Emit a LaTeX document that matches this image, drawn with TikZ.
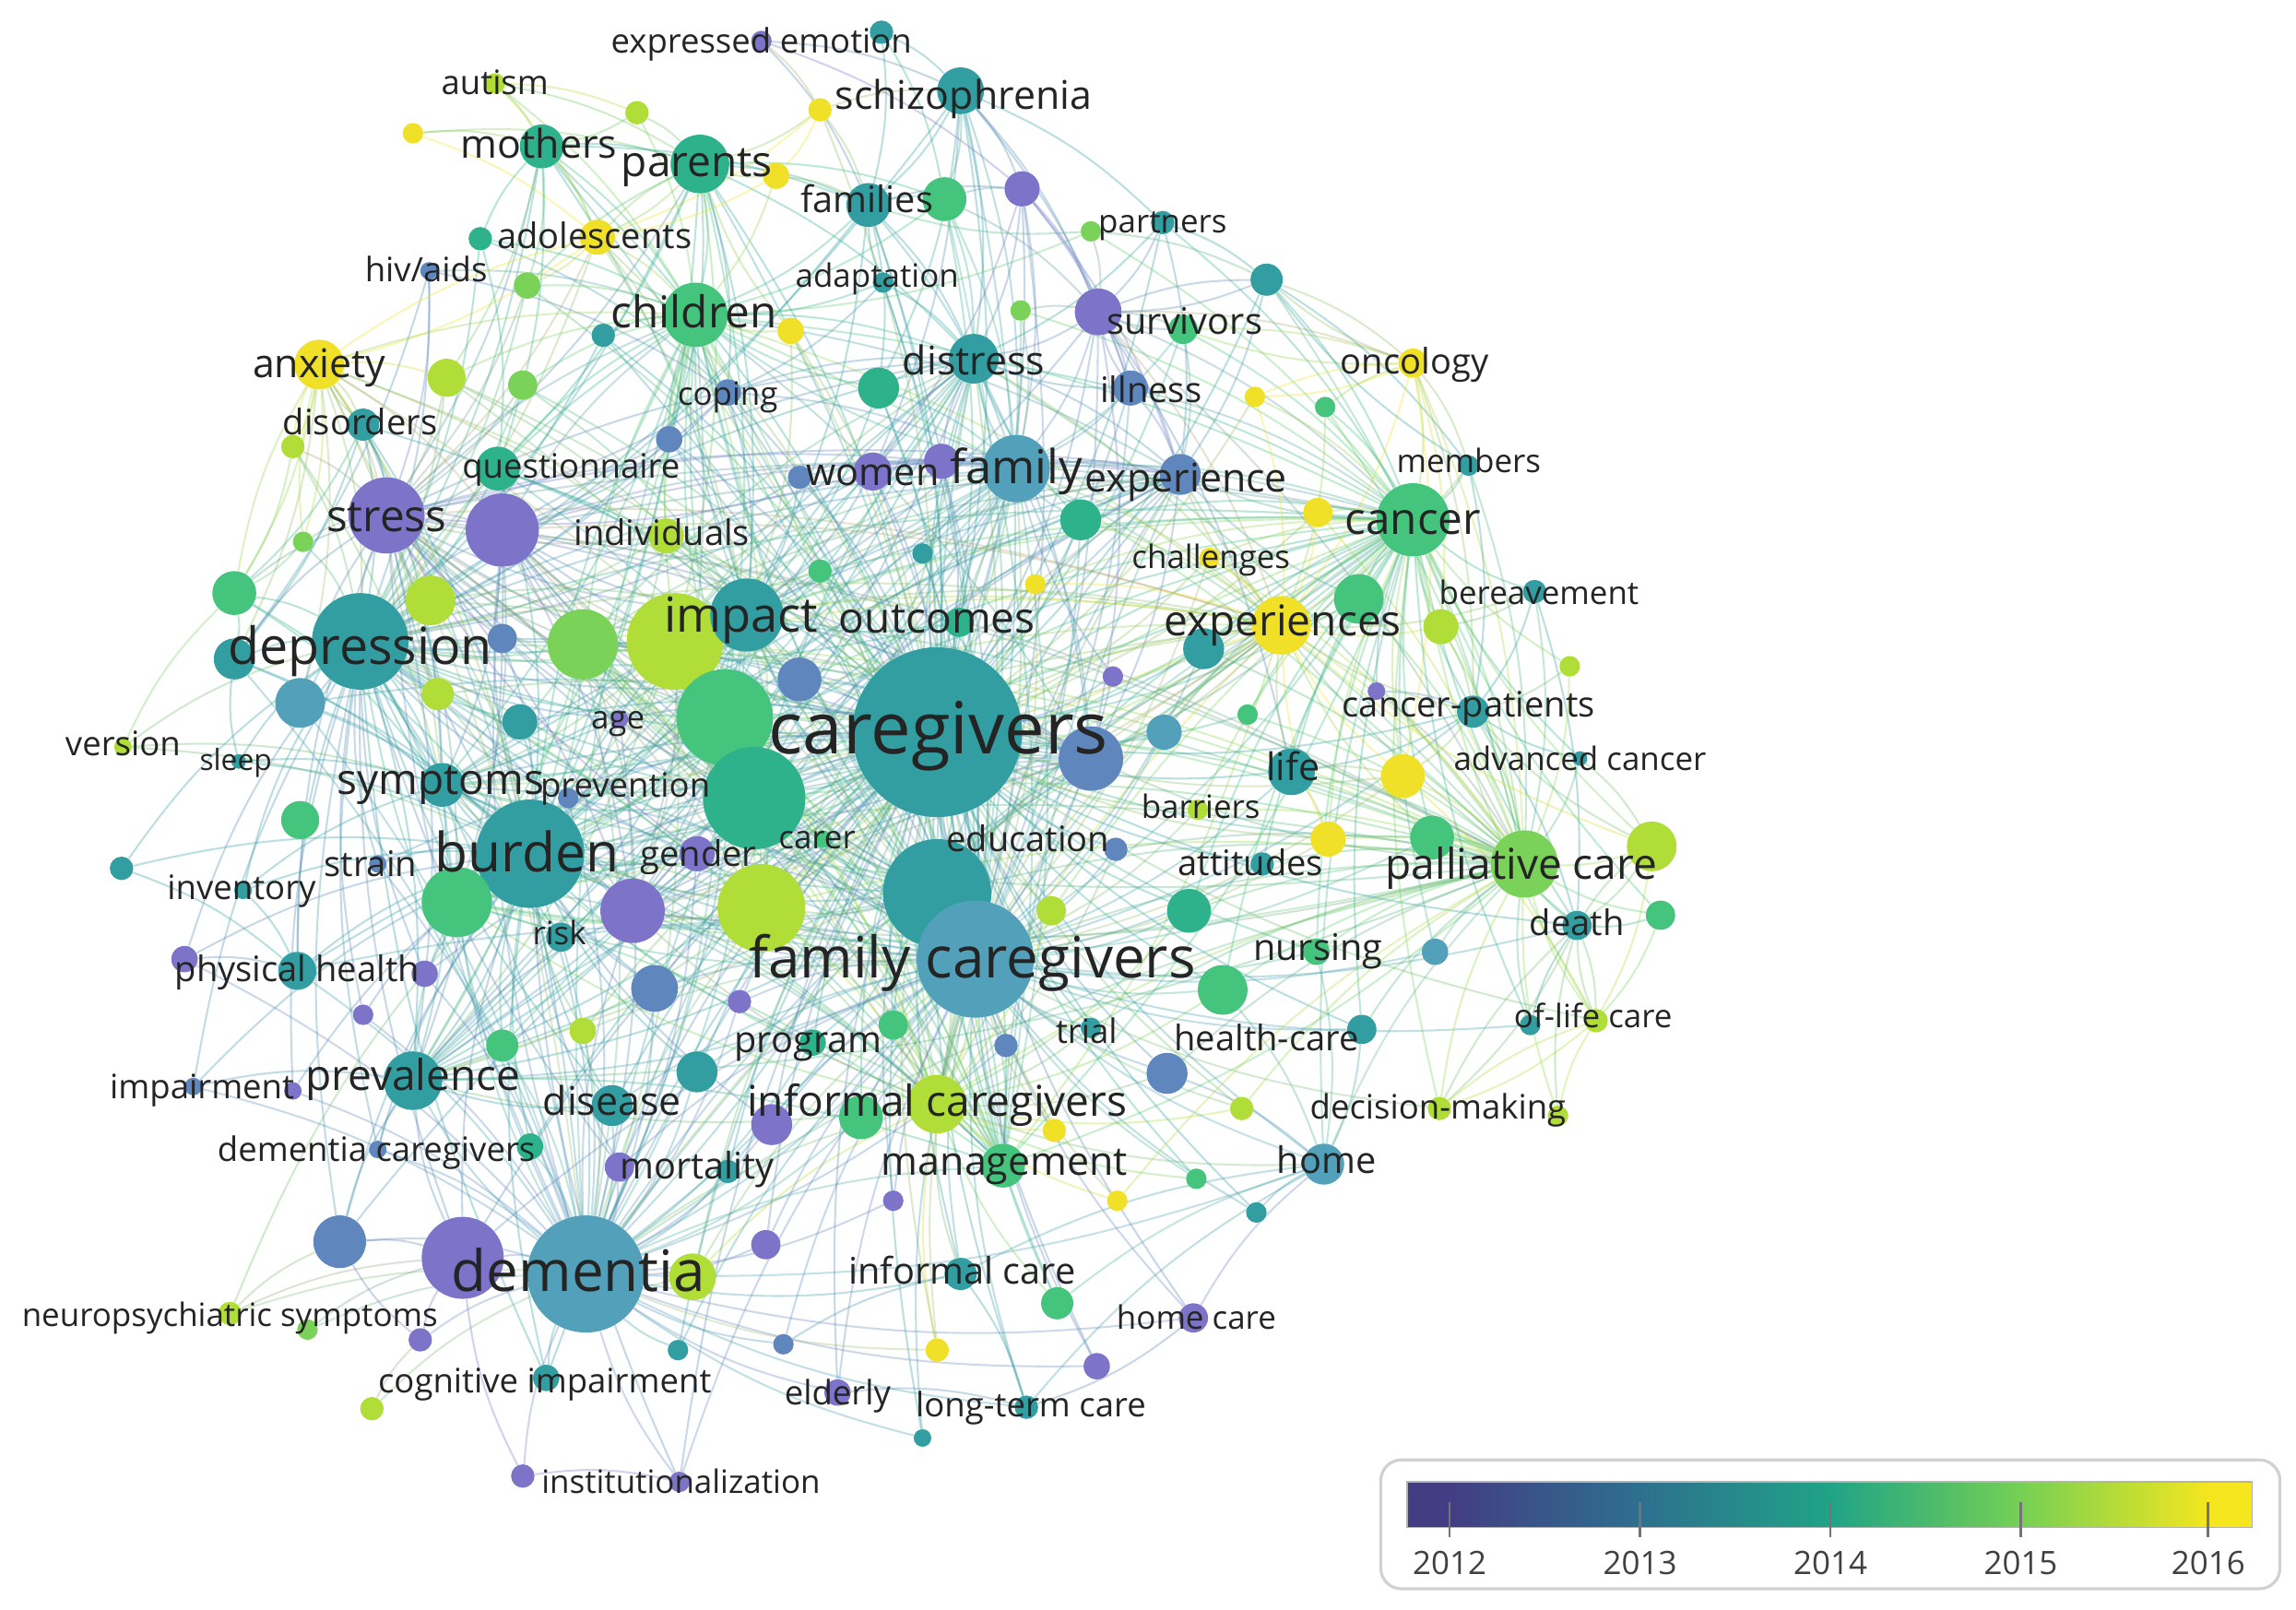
\documentclass[tikz,border=0pt]{standalone}
\usepackage{fontspec}
\setmainfont{Open Sans}
\pgfdeclarelayer{edgelayer}
\pgfdeclarelayer{labellayer}
\pgfsetlayers{edgelayer,main,labellayer}
\definecolor{cP}{RGB}{125,115,200}
\definecolor{cB}{RGB}{95,135,190}
\definecolor{cL}{RGB}{82,160,186}
\definecolor{cT}{RGB}{50,158,162}
\definecolor{cG1}{RGB}{45,178,140}
\definecolor{cG}{RGB}{68,196,125}
\definecolor{cGY}{RGB}{122,210,88}
\definecolor{cYG}{RGB}{176,221,55}
\definecolor{cY}{RGB}{240,225,40}
\definecolor{v12}{RGB}{67,61,132}
\definecolor{v13}{RGB}{45,112,142}
\definecolor{v14}{RGB}{32,163,134}
\definecolor{v15}{RGB}{117,208,84}
\definecolor{v16}{RGB}{245,230,30}
\tikzset{
  kw/.style={circle, inner sep=0pt, draw=none},
  lnk/.style={line width=1.3pt, draw opacity=0.33},
  lbl/.style={inner sep=0pt, text=black!86, anchor=center},
  yr/.style={inner sep=0pt, text=black!75, font=\fontsize{22}{22}\selectfont},
  tickl/.style={draw=black!55, line width=1.6pt},
}
\def\corelist{cg,fc,n94,n80,n70,imp,n60,n59,bur,dep,dem,str,n45,fam,chi,dis,n93,ic,exs,can,pal,sym,prv,n98,n99,mgt,exp,n74}
\begin{document}
\begin{tikzpicture}[x=1pt,y=-1pt]
\useasboundingbox (0,0) rectangle (1568,1099);
% ---------------- nodes (circles)
\foreach \n/\x/\y/\r/\c in {
ee/520/28/7/cP, eeT/602/22/8/cT, aut/338/57/7/cYG, n3/282/91/7/cY, n4/435/77/8/cYG,
sch/656/62/16/cT, n6/560/75/8/cY, mot/370/100/15/cG1, par/478/112/20/cG1, n9/530/120/9/cY,
fam2/593/140/15/cT, n11/645/136/15/cG, n12/698/129/12/cP, prt/794/152/8/cT, n13b/745/158/7/cGY,
ado/408/162/12/cY, n14b/328/163/8/cG1, hiv/293/185/6/cB, n16/360/195/9/cGY, adp/603/193/7/cT,
chi/475/215/22/cG, n20/540/226/9/cY, n21/697/212/7/cGY, sur/750/213/16/cP, sur2/808/225/10/cG,
n23/865/191/11/cT, onc/965/248/10/cY, anx/218/249/17/cY, n26/305/258/13/cYG, n27/357/263/10/cGY,
n28/412/229/8/cT, cop/497/268/9/cB, dis/665/245/17/cT, n31/600/265/14/cG1, ill/772/265/12/cB,
n33/857/271/7/cY, n33b/905/278/7/cG, dso/248/290/11/cT, n34b/200/305/8/cYG, que/340/320/15/cG1,
n36/457/300/9/cB, wom/596/322/13/cP, n37b/546/326/8/cB, n37c/643/315/12/cP, fam/694/320/23/cL,
exp/806/324/14/cB, n40/738/355/14/cG1, mem/1003/318/7/cT, n42/900/350/10/cY, can/965/355/25/cG,
str/264/352/26/cP, n45/343/362/25/cP, ind/455/366/12/cYG, n47/207/370/7/cGY, n48/630/378/7/cT,
n48b/560/390/8/cG, cha/826/381/7/cY, n50/928/409/17/cG, ber/1048/404/8/cT, n52/707/399/7/cY,
n53/160/405/15/cG, n54/294/410/17/cYG, dep/246/438/33/cT, n57/160/450/14/cT, n58/343/436/10/cB,
n59/398/440/24/cGY, n60/461/438/33/cYG, imp/510/420/25/cT, out/655/425/10/cG1, exs/875/427/20/cY,
n63/822/443/14/cT, n64/984/428/12/cYG, n65/1072/455/7/cYG, n66/205/480/17/cL, n67/299/474/11/cYG,
n68/355/493/12/cT, age/423/491/6/cP, n70/495/490/33/cG, n71/546/464/15/cB, cg/640/500/58/cT,
n73/760/462/7/cP, n74/745/518/22/cB, n75/795/500/12/cL, n76/940/472/6/cP, cp/1006/486/11/cT,
n77/852/488/7/cG, ver/84/510/6/cYG, slp/163/520/5/cT, n80/515/545/35/cG1, lif/882/527/16/cT,
n82/958/530/15/cY, adv/1079/518/5/cT, sym/302/536/15/cT, n84b/205/560/13/cG, pre/388/545/7/cB,
bar/818/553/7/cYG, edu/762/580/8/cB, car/562/573/6/cG, gen/476/583/12/cP, bur/362/583/37/cT,
stn/258/590/6/cB, inv/166/608/6/cT, n92/83/593/8/cT, n93/520/620/30/cYG, n94/640/610/37/cT,
n95/907/573/12/cY, n95b/978/572/15/cG, att/862/590/8/cT, pal/1041/590/23/cGY, n97b/1128/578/17/cYG,
n98/312/616/24/cG, n99/432/622/22/cP, n101/812/622/15/cG1, n101b/718/622/10/cYG, dth/1077/632/10/cT,
n102b/1134/625/10/cG, rsk/383/640/10/cT, phy/203/663/13/cT, n105b/126/655/9/cP, n105c/290/665/9/cP,
fc/666/655/40/cL, nur/899/650/9/cG, n108/980/650/9/cL, n109/835/676/17/cG, n110/447/675/16/cB,
n110b/248/693/7/cP, n110c/505/684/8/cP, olc/1090/697/8/cYG, n111b/1045/700/7/cT, prg/555/712/9/cG1,
n112/610/700/10/cG, tri/745/702/7/cT, n113b/687/714/8/cB, hc/930/703/10/cT, n115/398/704/9/cYG,
n115b/343/714/11/cG, imr/132/742/6/cB, n116b/200/745/6/cP, prv/282/738/20/cT, n118/476/732/14/cT,
dse/418/755/14/cT, ic/640/754/20/cYG, n120b/588/763/15/cG, n120c/527/768/14/cP, n121/797/733/14/cB,
dm/983/757/8/cYG, n122b/848/757/8/cYG, n122c/1064/762/7/cYG, n123/720/772/8/cY, dc/258/785/6/cB,
n124b/362/783/9/cG1, mor/423/797/10/cP, n125b/497/800/8/cT, mgt/685/796/15/cG, hom/904/795/14/cL,
n128/817/805/7/cG, n129/858/828/7/cT, n130/610/820/7/cP, n131/763/820/7/cY, n132/232/848/18/cB,
n133/316/859/28/cP, dem/400/870/40/cL, n134b/473/872/16/cYG, n135/523/850/10/cP, n135b/535/918/7/cB,
icar/656/870/11/cT, n136b/722/890/11/cG, hcr/815/900/10/cP, nps/157/897/8/cYG, n138b/210/908/7/cGY,
n139/287/915/8/cP, n140/463/922/7/cT, n141/640/922/8/cY, n142/749/933/9/cP, cog/373/941/9/cT,
eld/572/951/9/cP, ltc/701/961/8/cT, n146/254/962/8/cYG, n147/630/982/6/cT, n148/357/1008/8/cP,
ins/464/1012/7/cP}{
  \node[kw, fill=\c, minimum size={2*\r pt}] (\n) at (\x,\y) {};
  \expandafter\xdef\csname nc@\n\endcsname{\c}
}
% ---------------- connectors
\begin{pgfonlayer}{edgelayer}
\foreach \a [count=\i] in \corelist {
  \foreach \b [count=\j] in \corelist {
    \ifnum\j>\i
      \edef\mycol{\csname nc@\a\endcsname!50!\csname nc@\b\endcsname}
      \draw[lnk, draw=\mycol] (\a) to[bend left=10] (\b);
    \fi
  }
}
\foreach \sa/\tl in {
ee/{sch,fam2,n12,n6}, eeT/{sch,fam2,n11}, aut/{par,mot,ado,n4,chi}, n3/{mot,par,ado}, n4/{par,mot,chi},
sch/{fam2,n11,n12,fam,dis,cg,ill,sur,prt,n31,fc,wom,dep}, n6/{par,fam2,sch,cg,ado,n9},
mot/{par,chi,ado,n16,cg,dep,str,n26,fam2,que,fc,imp},
par/{chi,ado,fam2,n11,cg,fc,dep,str,imp,n60,dis,que,n36,cop,n70,bur},
n9/{par,chi,fam2,ado}, fam2/{n11,fam,dis,cg,n12,chi,n31,fc,imp,dep}, n11/{fam,dis,cg,n12,sur,chi,fc},
n12/{sur,fam,dis,cg,ill,wom,exp,fc}, prt/{sur,can,n23,exp,dis,cg}, n13b/{sur,can,n23,fam2,chi},
ado/{chi,par,anx,dep,str,cg,n16,fc,imp}, n14b/{mot,chi,cop,que,dep}, hiv/{chi,dep,str,cop,n57},
n16/{chi,par,dep,str,cg}, adp/{chi,fam2,dis,cop,cg,fc}, n20/{chi,cg,imp,par,fc}, n21/{sur,fam,can,cg},
sur/{can,fam,dis,ill,exp,cg,onc,n23,exs,sur2,lif,fc,imp,n74,pal}, sur2/{can,sur,onc,exp,fam,cg},
n23/{can,exp,mem,onc,sur,cg,pal}, onc/{can,exs,pal,n23,n33,mem,n64,sur2,cp,n82},
anx/{dep,str,dso,n26,n34b,n47,n53,ado,chi,sym,cg,n54,n45,bur,imp,fc,n57,n66,dem},
n26/{dep,str,cg,chi,imp,fc}, n27/{dep,chi,imp,cg,str}, n28/{chi,cg,dep,fc},
cop/{cg,str,dep,imp,chi,fam,dis,fc,n45}, n31/{cg,fam,dis,imp,fc,chi}, ill/{fam,exp,can,cg,dis,fc,sur},
n33/{can,exs,onc,cg}, n33b/{can,exs,onc,pal}, dso/{dep,str,anx,n53,n57,sym,cg,bur,dem},
n34b/{anx,dep,sym,n53,str}, que/{dep,str,cg,n45,imp,bur,fc,chi}, n36/{cg,dep,imp,chi,fc},
wom/{cg,fam,can,dis,exp,imp,str,n37c,fc,dep}, n37b/{cg,fam,dep,imp}, n37c/{cg,fam,dis,fc},
n40/{cg,fam,can,exp,fc,dis,exs}, mem/{can,pal,exs,cp,n23}, n42/{can,exs,cg,pal},
ind/{cg,dep,str,imp,fc,bur,chi}, n47/{dep,str,anx,n53}, n48/{cg,fam,fc}, n48b/{cg,imp,fc},
cha/{can,exs,cg,pal,fc}, n50/{can,exs,pal,cg,fc,exp}, ber/{can,pal,exs,cp,dth,n64}, n52/{cg,fc,exs,can},
n53/{dep,str,anx,sym,n57,bur}, n54/{dep,str,cg,imp,bur,fc}, n57/{dep,str,sym,bur,dem}, n58/{dep,str,cg,bur},
out/{cg,fc,imp,fam,dep}, n63/{cg,exs,can,fc,pal}, n64/{can,pal,exs,cp}, n65/{pal,can,cp},
n66/{dep,str,bur,sym,cg,dem}, n67/{dep,bur,cg,str}, n68/{dep,bur,cg,fc}, age/{cg,dep,bur,dem},
n71/{cg,fam,fc,imp,dep}, n73/{cg,fc,fam}, n75/{cg,fc,can,exs}, n76/{can,pal,cp},
cp/{can,pal,exs,cg,fc,lif,n82,dth}, n77/{cg,can,pal}, ver/{dep,n53,sym,bur}, slp/{dep,sym,bur,n57},
lif/{can,pal,exs,cg,fc,n82,n95}, n82/{can,pal,exs,cg,fc,olc}, adv/{pal,can,cp,n97b},
pre/{cg,dep,bur,dem,fc}, bar/{pal,can,cg,fc}, edu/{cg,fc,ic,pal}, car/{cg,fc,bur},
gen/{cg,bur,dep,fc,dem,str}, stn/{bur,dep,cg,dem}, inv/{dep,bur,sym,phy}, n92/{dep,bur,phy},
n95/{pal,can,exs,cg,fc}, n95b/{pal,can,exs,cg,fc,dth}, att/{pal,can,cg,fc}, n97b/{pal,can,exs,dth,olc,cp},
n101/{cg,fc,pal,ic,can}, n101b/{cg,fc,ic}, dth/{pal,can,cg,fc,olc,dm,n97b}, n102b/{pal,can,dth,olc},
rsk/{bur,dep,cg,fc,dem}, phy/{dep,bur,dem,cg,fc,str}, n105b/{dep,bur,phy,dem}, n105c/{bur,dep,dem,cg},
nur/{pal,cg,fc,can,hom}, n108/{pal,can,fc}, n109/{cg,fc,pal,ic,can,hom}, n110/{cg,fc,bur,dem,dep},
n110b/{dep,bur,dem}, n110c/{cg,fc,dem}, olc/{pal,can,dth,dm,cg}, n111b/{pal,can,dth,fc},
prg/{cg,fc,dem,ic,bur}, n112/{cg,fc,ic}, tri/{cg,fc,pal,ic}, n113b/{cg,fc,dem}, hc/{pal,can,cg,fc,hom},
n115/{cg,dem,bur,fc}, n115b/{dem,bur,dep,cg}, imr/{dem,dep,bur,prv}, n116b/{dem,bur,dep},
n118/{cg,fc,dem,bur}, dse/{dem,cg,fc,bur,dep,prv}, n120b/{cg,fc,ic,dem}, n120c/{cg,fc,dem,bur},
n121/{cg,fc,pal,hom,ic}, dm/{pal,can,fc,olc,dth}, n122b/{pal,fc,cg,ic}, n122c/{pal,dth,olc},
n123/{fc,ic,cg}, dc/{dem,bur,dep,prv}, n124b/{dem,bur,cg}, mor/{dem,cg,fc,bur,dep}, n125b/{dem,cg,fc},
hom/{cg,fc,pal,ic,dem,can}, n128/{fc,cg,ic}, n129/{fc,hom,cg}, n130/{dem,cg,fc}, n131/{fc,ic,pal},
n132/{dem,bur,dep,prv,n133,cg}, n133/{dem,bur,dep,cg,fc,prv}, n134b/{dem,cg,fc,ic}, n135/{dem,cg,fc},
n135b/{dem,fc,icar}, icar/{cg,fc,dem,ic,ltc,hom}, n136b/{fc,ic,cg,hom}, hcr/{fc,dem,cg,hom,ltc},
nps/{dem,n132,n133,bur}, n138b/{dem,n133}, n139/{dem,n133,n132}, n140/{dem,fc,cg}, n141/{fc,ic,cg,dem},
n142/{fc,cg,dem}, cog/{dem,bur,dep,cg}, eld/{dem,cg,fc,ltc}, ltc/{dem,cg,fc,hom}, n146/{dem,n139},
n147/{dem,cg,fc}, n148/{dem,ins,n133}, ins/{dem,cg,fc,bur}}{
  \foreach \tb in \tl {
    \edef\mycol{\csname nc@\sa\endcsname!50!\csname nc@\tb\endcsname}
    \draw[lnk, draw=\mycol] (\sa) to[bend left=10] (\tb);
  }
}
\end{pgfonlayer}
% ---------------- labels
\begin{pgfonlayer}{labellayer}
\foreach \n/\x/\y/\fs/\txt in {
ee/520/28/23/expressed emotion, aut/338/56/23/autism, sch/658/65/27/schizophrenia, mot/368/98/27/mothers,
par/476/110/29/parents, fam2/592/136/25/families, prt/794/151/22/partners, ado/406/161/24/adolescents,
hiv/291/184/23/{hiv/aids}, adp/599/188/22/adaptation, chi/474/213/30/children, sur/809/219/25/survivors,
onc/966/247/24/oncology, anx/218/248/27/anxiety, cop/497/269/22/coping, dis/665/246/27/distress,
ill/786/266/24/illness, dso/246/288/24/disorders, que/390/318/23/questionnaire, wom/596/322/26/women,
fam/694/319/32/family, exp/810/326/27/experience, mem/1003/315/22/members, can/965/354/30/cancer,
str/264/352/30/stress, ind/452/364/24/individuals, cha/827/380/22/challenges, ber/1051/405/22/bereavement,
dep/246/441/35/depression, imp/506/420/33/impact, out/640/422/29/outcomes, exs/876/424/29/experiences,
age/422/490/22/age, cg/641/497/49/caregivers, cp/1003/481/24/cancer-patients, ver/84/508/23/version,
slp/161/519/20/sleep, lif/883/524/26/life, adv/1079/518/22/advanced cancer, sym/301/532/29/symptoms,
pre/427/536/23/prevention, bar/820/551/22/barriers, edu/702/573/24/education, car/558/572/22/carer,
gen/477/583/24/gender, bur/360/582/37/burden, stn/253/590/24/strain, inv/165/606/23/inventory,
att/854/589/24/attitudes, pal/1039/590/29/palliative care, dth/1077/630/24/death, rsk/382/637/22/risk,
phy/203/662/24/physical health, fc/664/654/39/family caregivers, nur/900/647/25/nursing,
olc/1088/694/22/of-life care, prg/552/710/25/program, tri/742/704/23/trial, hc/865/709/24/health-care,
imr/138/742/23/impairment, prv/282/734/29/prevalence, dse/418/752/27/disease, ic/640/752/29/informal caregivers,
dm/982/756/23/decision-making, dc/257/785/23/dementia caregivers, mor/476/796/25/mortality,
mgt/686/793/27/management, hom/906/792/25/home, dem/395/868/39/dementia, icar/657/868/25/informal care,
hcr/817/900/22/home care, nps/157/898/22/neuropsychiatric symptoms, cog/372/943/23/cognitive impairment,
eld/572/951/23/elderly, ltc/704/959/23/long-term care, ins/465/1012/22/institutionalization}{
  \node[lbl, font=\fontsize{\fs}{\fs}\selectfont, text height={0.9*\fs pt}, text depth={0.18*\fs pt}] (l-\n) at (\x,\y) {\txt};
}
\end{pgfonlayer}
% ---------------- legend
\node[draw=black!18, line width=2pt, rounded corners=14pt, minimum width=614pt, minimum height=88pt, inner sep=0pt] (legend) at (1250,1041) {};
\fill[v12] (961,1012) rectangle (990.5,1043);
\shade[left color=v12, right color=v13] (990,1012) rectangle (1120.5,1043);
\shade[left color=v13, right color=v14] (1120,1012) rectangle (1250.5,1043);
\shade[left color=v14, right color=v15] (1250,1012) rectangle (1380.5,1043);
\shade[left color=v15, right color=v16] (1380,1012) rectangle (1508.5,1043);
\fill[v16] (1508,1012) rectangle (1538,1043);
\draw[black!30, line width=0.8pt] (961,1012) rectangle (1538,1043);
\foreach \yy/\xx in {2012/990, 2013/1120, 2014/1250, 2015/1380, 2016/1508}{
  \draw[tickl] (\xx,1026) -- (\xx,1050);
  \node[yr, text height=19pt, text depth=2pt] (y\yy) at (\xx,1067) {\yy};
}
\end{tikzpicture}
\end{document}
